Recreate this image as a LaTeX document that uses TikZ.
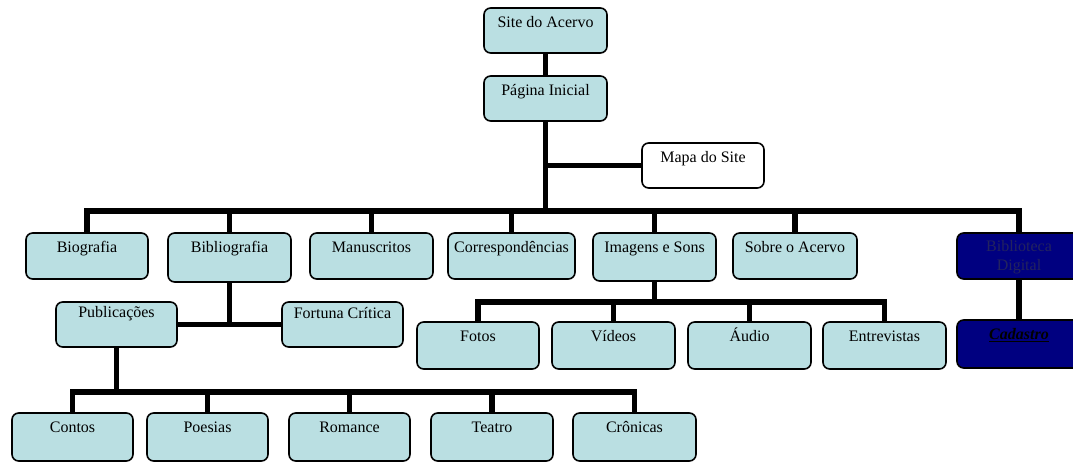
\documentclass[tikz,border=0pt]{standalone}
\usepackage{fontspec}
\setmainfont{Liberation Serif}
\usetikzlibrary{fit,backgrounds}
\definecolor{boxfill}{RGB}{186,223,226}
\definecolor{navyfill}{RGB}{0,0,128}
\definecolor{navytext}{RGB}{35,35,95}
\newcommand\orgbox[8][]{%
  \node[#2, fit={(#4,#5) (#6,#7)}] (#3) {};
  \node[lbl,#1] (#3-t) at ([yshift=-15pt]#3.north) {#8};}
\begin{document}
\begin{tikzpicture}[x=0.75pt,y=-0.75pt,
  box/.style={draw=black, line width=1.2pt, rounded corners=5pt, fill=boxfill, inner sep=0pt},
  darkbox/.style={box, fill=navyfill},
  whitebox/.style={box, fill=white},
  lbl/.style={anchor=base, font=\rmfamily\fontsize{12}{14.5}\selectfont, inner sep=0pt, text=black},
  conn/.style={line width=4pt, black}]
\useasboundingbox (0,0) rectangle (1073,463);

\orgbox{box}{site}{484}{8}{607}{53}{Site do Acervo}
\orgbox{box}{pag}{484}{76}{607}{121}{Página Inicial}
\orgbox{whitebox}{mapa}{642}{143}{764}{188}{Mapa do Site}

\orgbox{box}{bio}{26}{233}{148}{279}{Biografia}
\orgbox{box}{bibl}{168}{233}{291}{282}{Bibliografia}
\orgbox{box}{man}{310}{233}{433}{279}{Manuscritos}
\orgbox{box}{corr}{448}{233}{575}{279}{Correspondências}
\orgbox{box}{img}{593}{233}{716}{281}{Imagens e Sons}
\orgbox{box}{sobre}{733}{233}{857}{279}{Sobre o Acervo}
\node[darkbox, fit={(957,233) (1081,279)}] (bdig) {};
\node[lbl, anchor=north, align=center, text=navytext, yshift=-6pt] (bdig-t) at (bdig.north) {Biblioteca\\Digital};

\orgbox[yshift=3pt]{box}{pub}{56}{302}{177}{347}{Publicações}
\orgbox[yshift=2pt]{box}{fort}{282}{302}{403}{347}{Fortuna Crítica}

\orgbox{box}{fotos}{417}{322}{539}{369}{Fotos}
\orgbox{box}{vid}{552}{322}{675}{369}{Vídeos}
\orgbox{box}{aud}{688}{322}{811}{369}{Áudio}
\orgbox{box}{entr}{823}{322}{946}{369}{Entrevistas}
\orgbox[font=\rmfamily\fontsize{12}{14.5}\selectfont\bfseries\itshape]{darkbox}{cad}{957}{320}{1081}{368}{\underline{Cadastro}}

\orgbox{box}{contos}{12}{413}{133}{461}{Contos}
\orgbox{box}{poe}{147}{413}{268}{461}{Poesias}
\orgbox{box}{rom}{289}{413}{410}{461}{Romance}
\orgbox{box}{teat}{431}{413}{553}{461}{Teatro}
\orgbox{box}{cron}{573}{413}{696}{461}{Crônicas}

\begin{scope}[on background layer]
  \coordinate (bus) at (0,211);
  \coordinate (bus2) at (0,302);
  \coordinate (bus3) at (0,392);
  \draw[conn] (site.south) -- (pag.north);
  \draw[conn] (pag.south) -- (pag.south |- bus);
  \draw[conn] (mapa.west) -- (pag.south |- mapa.west);
  \draw[conn] (bio.north) -- (bio.north |- bus) -- (bdig.north |- bus) -- (bdig.north);
  \foreach \n in {bibl,man,corr,img,sobre}
    \draw[conn] (\n.north) -- (\n.north |- bus);
  \draw[conn] (bdig.south) -- (cad.north);
  \draw[conn] (bibl.south) -- (bibl.south |- pub.east);
  \draw[conn] (pub.east) -- (fort.west);
  \draw[conn] (img.south) -- (img.south |- bus2);
  \draw[conn] (fotos.north) -- (fotos.north |- bus2) -- (entr.north |- bus2) -- (entr.north);
  \foreach \n in {vid,aud}
    \draw[conn] (\n.north) -- (\n.north |- bus2);
  \draw[conn] (pub.south) -- (pub.south |- bus3);
  \draw[conn] (contos.north) -- (contos.north |- bus3) -- (cron.north |- bus3) -- (cron.north);
  \foreach \n in {poe,rom,teat}
    \draw[conn] (\n.north) -- (\n.north |- bus3);
\end{scope}
\end{tikzpicture}
\end{document}
